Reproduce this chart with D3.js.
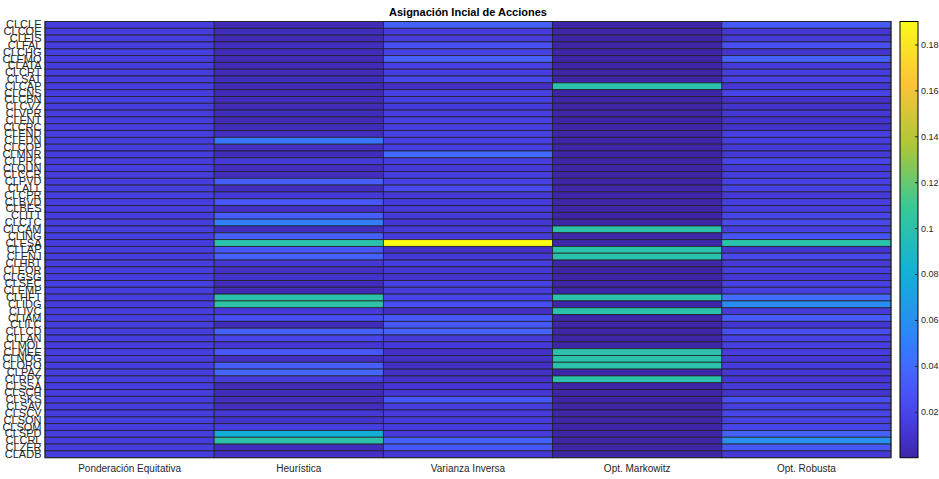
<!DOCTYPE html>
<html>
<head>
<meta charset="utf-8">
<script src="https://cdn.jsdelivr.net/npm/d3@7"></script>
<style>
  html, body { margin: 0; padding: 0; background: #ffffff; }
  svg { display: block; font-family: "Liberation Sans", Arial, Helvetica, sans-serif; }
</style>
</head>
<body>
<svg id="chart" width="939" height="479"></svg>
<script>
// Asset tickers (rows, top to bottom)
const tickers = [
  "CLCLE","CLCOE","CLEIS","CLFAL","CLCHG","CLEMO","CLATA","CLCRT","CLSAT","CLCAP",
  "CLCNS","CLCBN","CLCVZ","CLVPR","CLENT","CLCRC","CLEND","CLEDN","CLCOP","CLMNR",
  "CLPRC","CLQUN","CLCCR","CLPVD","CLALL","CLCPR","CLBVD","CLBES","CLITT","CLCTC",
  "CLCAM","CLING","CLESA","CLLAP","CLENJ","CLHBT","CLEOR","CLGSG","CLSEC","CLEMP",
  "CLHFT","CLIDG","CLIVC","CLIAM","CLILC","CLLCD","CLLAN","CLMOL","CLMEE","CLNOG",
  "CLORO","CLPAZ","CLRPY","CLSSA","CLSCH","CLSKS","CLSAV","CLSCV","CLSON","CLSOM",
  "CLSPD","CLCRL","CLZER","CLADB"
];

// Allocation methods (columns)
const methods = ["Ponderación Equitativa", "Heurística", "Varianza Inversa", "Opt. Markowitz", "Opt. Robusta"];

// Initial weights per method, one value per ticker
const wEquitativa = [
  0.0156,0.0156,0.0156,0.0156,0.0156,0.0156,0.0156,0.0156,0.0156,0.0156,
  0.0156,0.0156,0.0156,0.0156,0.0156,0.0156,0.0156,0.0156,0.0156,0.0156,
  0.0156,0.0156,0.0156,0.0156,0.0156,0.0156,0.0156,0.0156,0.0156,0.0156,
  0.0156,0.0156,0.0156,0.0156,0.0156,0.0156,0.0156,0.0156,0.0156,0.0156,
  0.0156,0.0156,0.0156,0.0156,0.0156,0.0156,0.0156,0.0156,0.0156,0.0156,
  0.0156,0.0156,0.0156,0.0156,0.0156,0.0156,0.0156,0.0156,0.0156,0.0156,
  0.0156,0.0156,0.0156,0.0156
];
const wHeuristica = [
  0.004,0.005,0.004,0.006,0.005,0.004,0.004,0.004,0.005,0.004,
  0.004,0.005,0.004,0.005,0.004,0.005,0.006,0.045,0.006,0.005,
  0.014,0.006,0.007,0.033,0.006,0.013,0.030,0.007,0.033,0.050,
  0.005,0.034,0.100,0.030,0.035,0.012,0.008,0.010,0.005,0.004,
  0.100,0.102,0.014,0.025,0.005,0.035,0.020,0.012,0.030,0.006,
  0.033,0.038,0.015,0.004,0.005,0.006,0.006,0.012,0.010,0.016,
  0.080,0.100,0.005,0.008
];
const wVarianza = [
  0.035,0.015,0.014,0.026,0.018,0.034,0.017,0.016,0.021,0.007,
  0.017,0.016,0.015,0.016,0.018,0.016,0.017,0.017,0.016,0.040,
  0.016,0.014,0.016,0.018,0.022,0.013,0.015,0.013,0.013,0.012,
  0.013,0.014,0.190,0.008,0.013,0.016,0.012,0.010,0.017,0.015,
  0.020,0.025,0.007,0.030,0.030,0.035,0.013,0.014,0.008,0.008,
  0.008,0.008,0.008,0.012,0.012,0.030,0.016,0.014,0.015,0.015,
  0.014,0.035,0.030,0.012
];
const wMarkowitz = [
  0,0,0,0,0,0,0,0,0,0.100,
  0,0,0,0,0,0,0,0,0,0,
  0,0,0,0,0,0,0,0,0,0,
  0.100,0,0,0.100,0.100,0,0,0,0,0,
  0.100,0,0.100,0,0,0,0,0,0.100,0.100,
  0.100,0,0.100,0,0,0,0,0,0,0,
  0,0,0,0
];
const wRobusta = [
  0.032,0.012,0.013,0.026,0.010,0.036,0.014,0.016,0.018,0.012,
  0.020,0.008,0.010,0.012,0.010,0.009,0.016,0.016,0.014,0.013,
  0.020,0.013,0.016,0.018,0.018,0.014,0.016,0.015,0.020,0.022,
  0.016,0.028,0.100,0.010,0.022,0.013,0.016,0.012,0.017,0.016,
  0.040,0.057,0.014,0.032,0.012,0.025,0.018,0.016,0.015,0.012,
  0.015,0.012,0.012,0.014,0.010,0.025,0.016,0.020,0.018,0.020,
  0.035,0.060,0.030,0.013
];

// Colour bar tick values and labels
const cbTicks = [0.02, 0.04, 0.06, 0.08, 0.1, 0.12, 0.14, 0.16, 0.18];
const cbTickLabels = ["0.02", "0.04", "0.06", "0.08", "0.1", "0.12", "0.14", "0.16", "0.18"];

const series = [wEquitativa, wHeuristica, wVarianza, wMarkowitz, wRobusta];
const cells = [];
methods.forEach((m, j) => {
  tickers.forEach((t, i) => cells.push({ method: m, ticker: t, value: series[j][i] }));
});

// Parula-style colour map
const parulaStops = [
  [0,   [0.2422,0.1504,0.6603]],
  [8,   [0.2576,0.1814,0.7501]],
  [16,  [0.2704,0.2138,0.8346]],
  [24,  [0.2781,0.2543,0.8973]],
  [32,  [0.2813,0.2985,0.9397]],
  [40,  [0.2798,0.3421,0.9702]],
  [48,  [0.2710,0.3860,0.9898]],
  [56,  [0.2473,0.4319,0.9983]],
  [64,  [0.2005,0.4803,0.9906]],
  [73,  [0.1786,0.5289,0.9682]],
  [109, [0.0689,0.6948,0.8394]],
  [146, [0.2161,0.7843,0.5923]],
  [182, [0.6720,0.7793,0.2227]],
  [219, [0.9970,0.7659,0.2199]],
  [255, [0.9769,0.9839,0.0805]]
];
const parula = d3.scaleLinear()
  .domain(parulaStops.map(d => d[0] / 255))
  .range(parulaStops.map(d => d3.rgb(d[1][0]*255, d[1][1]*255, d[1][2]*255).toString()))
  .interpolate(d3.interpolateRgb)
  .clamp(true);

const allValues = series.flat();
const vExtent = d3.extent(allValues);
const color = d3.scaleSequential(parula).domain(vExtent);

// Layout
const plot = { x0: 45, x1: 891, y0: 21.5, y1: 457.7 };
const cb = { x0: 900, x1: 918 };
const textColor = "#262626";

const svg = d3.select("#chart");

const x = d3.scaleBand().domain(methods).range([plot.x0, plot.x1]).padding(0);
const y = d3.scaleBand().domain(tickers).range([plot.y0, plot.y1]).padding(0);

// Cells
svg.append("g")
  .selectAll("rect")
  .data(cells)
  .join("rect")
  .attr("x", d => x(d.method))
  .attr("y", d => y(d.ticker))
  .attr("width", x.bandwidth())
  .attr("height", y.bandwidth())
  .attr("fill", d => color(d.value))
  .attr("stroke", "#202020")
  .attr("stroke-opacity", 0.85)
  .attr("stroke-width", 0.9);

// Outer frame
svg.append("rect")
  .attr("x", plot.x0).attr("y", plot.y0)
  .attr("width", plot.x1 - plot.x0).attr("height", plot.y1 - plot.y0)
  .attr("fill", "none").attr("stroke", "#262626").attr("stroke-width", 1);

// Row labels
const yAxis = d3.axisLeft(y).tickSize(0).tickPadding(3);
const gy = svg.append("g").attr("transform", `translate(${plot.x0 - 0.5},0)`).call(yAxis);
gy.select(".domain").remove();
gy.selectAll("text")
  .attr("fill", textColor)
  .style("font-size", "11px")
  .style("font-family", "'Liberation Sans', Arial, sans-serif");

// Column labels
const xAxis = d3.axisBottom(x).tickSize(0).tickPadding(7);
const gx = svg.append("g").attr("transform", `translate(0,${plot.y1})`).call(xAxis);
gx.select(".domain").remove();
gx.selectAll("text")
  .attr("fill", textColor)
  .style("font-size", "10px")
  .style("font-family", "'Liberation Sans', Arial, sans-serif");

// Title
svg.append("text")
  .attr("x", (plot.x0 + plot.x1) / 2)
  .attr("y", 16)
  .attr("text-anchor", "middle")
  .attr("fill", "#000")
  .style("font-size", "11px")
  .style("font-weight", "bold")
  .text("Asignación Incial de Acciones");

// Colour bar
const cbScale = d3.scaleLinear().domain(vExtent).range([plot.y1, plot.y0]);
const defs = svg.append("defs");
const grad = defs.append("linearGradient")
  .attr("id", "cbGrad")
  .attr("x1", 0).attr("y1", 1).attr("x2", 0).attr("y2", 0);
d3.range(0, 1.0001, 0.02).forEach(t => {
  grad.append("stop")
    .attr("offset", t)
    .attr("stop-color", parula(t));
});
svg.append("rect")
  .attr("x", cb.x0).attr("y", plot.y0)
  .attr("width", cb.x1 - cb.x0).attr("height", plot.y1 - plot.y0)
  .attr("fill", "url(#cbGrad)")
  .attr("stroke", "#000").attr("stroke-width", 1);

const cbAxis = d3.axisRight(cbScale).tickValues(cbTicks).tickSize(-3).tickPadding(3)
  .tickFormat((d, i) => cbTickLabels[i]);
const gcb = svg.append("g").attr("transform", `translate(${cb.x1},0)`).call(cbAxis);
gcb.select(".domain").remove();
gcb.selectAll("line").attr("stroke", "#262626");
gcb.selectAll("text")
  .attr("fill", textColor)
  .style("font-size", "9px")
  .style("font-family", "'Liberation Sans', Arial, sans-serif");
</script>
</body>
</html>
